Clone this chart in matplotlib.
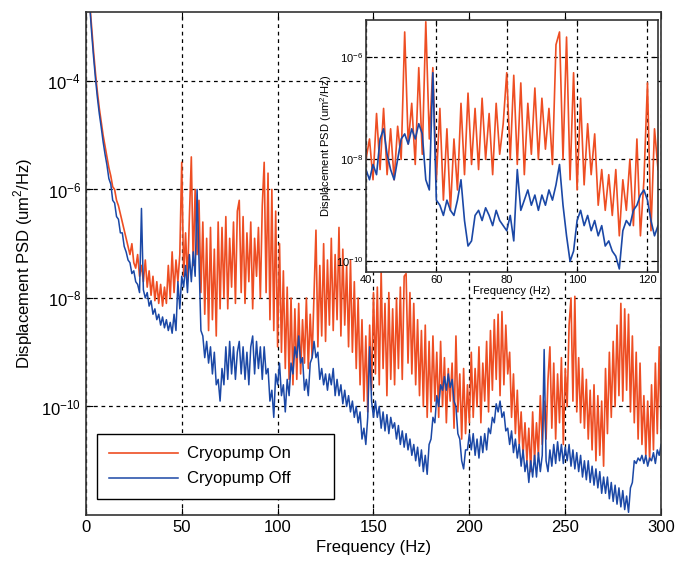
import numpy as np
import matplotlib
matplotlib.use("Agg")
import matplotlib.pyplot as plt
from matplotlib.ticker import FixedLocator, NullLocator, LogFormatterSciNotation

plt.rcParams['font.family'] = ['Liberation Sans', 'DejaVu Sans']
plt.rcParams['mathtext.fontset'] = 'custom'
plt.rcParams['mathtext.rm'] = 'Liberation Sans'

# frequency grid of the main plot (Hz)
freq = np.arange(1, 301)

# log10 of displacement PSD, cryopump on (1 Hz steps)
on_exp = [
    -2.2, -2.55, -3.0, -3.45, -3.85, -4.2, -4.5, -4.75, -5.0, -5.2,
    -5.4, -5.6, -5.75, -5.95, -6.0, -6.2, -6.3, -6.45, -6.6, -6.75,
    -6.9, -7.05, -7.2, -7.0, -7.35, -7.45, -7.2, -7.6, -7.4, -7.7,
    -7.3, -7.8, -7.5, -7.95, -7.6, -8.05, -7.7, -8.1, -7.75, -8.15,
    -7.8, -8.1, -7.4, -8.0, -7.15, -7.9, -7.3, -7.7, -7.2, -5.5,
    -7.6, -6.8, -7.7, -6.5, -5.4, -7.4, -6.0, -7.2, -6.2, -7.9,
    -6.6, -8.3, -6.9, -8.6, -6.7, -8.4, -7.1, -8.7, -6.6, -8.2,
    -6.7, -8.0, -6.5, -8.2, -6.9, -7.8, -6.6, -8.1, -6.4, -6.2,
    -7.9, -6.5, -8.1, -6.8, -7.7, -6.6, -8.2, -6.9, -7.6, -6.7,
    -8.0, -6.3, -5.5, -7.9, -5.7, -8.4, -6.0, -8.6, -6.4, -8.9,
    -7.0, -9.0, -7.5, -9.3, -7.8, -9.5, -8.0, -9.6, -8.2, -9.5,
    -8.1, -9.4, -8.4, -9.2, -8.0, -9.3, -8.3, -9.1, -7.9, -6.75,
    -8.9, -7.4, -8.7, -7.0, -8.8, -7.3, -8.5, -6.9, -8.6, -7.2,
    -8.4, -6.7, -8.7, -7.1, -8.5, -7.4, -8.9, -7.3, -9.0, -7.7,
    -9.3, -8.0, -9.6, -8.4, -9.9, -8.7, -10.1, -8.5, -9.7, -7.9,
    -9.4, -7.8, -9.6, -7.5, -9.3, -8.1, -9.8, -7.9, -9.5, -8.2,
    -9.6, -8.0, -9.3, -7.8, -9.5, -7.6, -7.55, -9.2, -7.9, -9.4,
    -8.1, -9.6, -8.4, -9.8, -8.6, -10.0, -8.5, -10.2, -8.8, -10.1,
    -8.7, -9.9, -9.0, -10.2, -8.8, -10.0, -9.1, -10.3, -9.3, -9.9,
    -9.2, -10.4, -8.7, -10.1, -9.4, -10.6, -9.3, -10.5, -9.6, -10.3,
    -9.0, -10.2, -9.3, -10.0, -8.9, -10.3, -9.2, -9.9, -8.8, -10.1,
    -8.6, -9.7, -8.4, -9.5, -8.3, -9.8, -8.25, -9.6, -8.5, -9.4,
    -9.0, -10.2, -9.4, -10.5, -9.7, -10.7, -10.1, -10.9, -10.3, -11.0,
    -10.4, -11.2, -10.1, -11.0, -10.3, -10.9, -9.8, -10.7, -9.9, -10.6,
    -9.5, -8.9, -10.4, -9.2, -10.6, -9.4, -10.3, -9.1, -10.7, -9.3,
    -10.0, -8.5, -8.0, -9.9, -7.97, -10.1, -9.1, -10.3, -9.3, -10.4,
    -9.5, -10.6, -9.7, -10.8, -9.6, -11.0, -9.8, -10.9, -9.9, -11.1,
    -9.3, -10.5, -9.0, -10.2, -8.8, -10.0, -8.5, -9.8, -8.1, -9.9,
    -8.2, -9.7, -8.3, -10.1, -8.7, -10.3, -9.0, -10.6, -9.2, -10.7,
    -9.8, -10.9, -9.9, -11.0, -9.6, -10.8, -9.2, -10.5, -8.9, -10.4,
]

# log10 of displacement PSD, cryopump off
off_exp = [
    -2.2, -2.6, -3.1, -3.55, -3.95, -4.3, -4.6, -4.85, -5.12, -5.35,
    -5.55, -5.8, -5.9, -6.2, -6.25, -6.5, -6.55, -6.8, -6.8, -7.05,
    -7.15, -7.3, -7.35, -7.55, -7.5, -7.7, -7.75, -7.9, -6.35, -7.85,
    -8.0, -7.9, -8.15, -8.05, -8.3, -8.2, -8.4, -8.3, -8.5, -8.35,
    -8.55, -8.4, -8.6, -8.45, -8.65, -8.3, -8.6, -7.7, -8.2, -7.6,
    -7.8, -7.4, -7.9, -7.2, -7.7, -7.15, -7.6, -6.0, -7.3, -8.6,
    -8.7, -9.1, -8.8, -9.2, -8.9, -9.4, -9.0, -9.6, -9.5, -9.9,
    -9.3, -9.6, -8.9, -9.5, -8.8, -9.4, -8.9, -9.5, -9.0, -8.8,
    -9.4, -8.9, -9.5, -9.0, -9.6, -8.9, -8.7, -9.4, -8.8, -9.3,
    -8.9, -9.5, -8.9, -9.4, -9.3, -9.9, -9.7, -10.2, -9.4, -9.6,
    -9.2, -9.8, -9.6, -10.1, -9.5, -9.8, -9.2, -9.4, -8.9, -9.1,
    -8.7, -9.2, -9.1, -9.7, -9.5, -9.8, -9.2, -9.1, -8.8, -9.1,
    -9.0, -9.5, -9.3, -9.6, -9.4, -9.7, -9.4, -9.6, -9.3, -9.8,
    -9.5, -9.8, -9.6, -9.95, -9.7, -10.0, -9.8, -10.1, -9.9, -10.2,
    -10.0, -10.3, -10.1, -10.6, -10.4, -10.7, -10.2, -8.9, -9.9, -10.2,
    -9.9, -10.2, -10.0, -10.4, -10.1, -10.45, -10.15, -10.5, -10.2, -10.4,
    -10.3, -10.6, -10.35, -10.7, -10.45, -10.75, -10.5, -10.8, -10.6, -10.9,
    -10.7, -11.0, -10.75, -11.1, -10.8, -11.2, -10.9, -11.25, -10.7, -10.6,
    -10.2, -10.3, -9.8, -10.0, -9.6, -9.7, -9.45, -9.7, -9.4, -9.65,
    -9.5, -9.9, -10.0, -10.5, -10.6, -11.0, -11.15, -10.8, -10.8, -10.5,
    -10.8, -10.5, -10.9, -10.6, -10.95, -10.55, -10.85, -10.5, -10.8, -10.4,
    -10.5, -10.2, -10.3, -9.95, -10.1, -9.9, -10.2, -10.1, -10.45, -10.4,
    -10.7, -10.45, -10.85, -10.6, -10.95, -10.7, -11.1, -10.8, -11.2, -11.0,
    -11.4, -11.0, -11.3, -10.9, -11.3, -10.85, -11.2, -10.9, -8.95, -11.0,
    -11.2, -10.8, -11.1, -10.7, -11.05, -10.65, -11.0, -10.7, -11.05, -10.75,
    -11.0, -10.7, -11.1, -10.8, -11.15, -10.85, -11.2, -10.9, -11.3, -11.0,
    -11.35, -11.0, -11.4, -11.1, -11.45, -11.15, -11.5, -11.2, -11.6, -11.3,
    -11.6, -11.3, -11.7, -11.4, -11.75, -11.45, -11.8, -11.5, -11.85, -11.55,
    -11.9, -11.65, -11.95, -11.5, -11.4, -11.0, -11.05, -10.95, -11.0, -10.9,
    -11.05, -10.9, -11.1, -10.95, -11.0, -10.85, -11.05, -10.8, -10.9, -10.7,
]

# inset: 40-123 Hz
inset_freq = np.arange(40, 124)
inset_on_exp = [
    -8.0, -7.6, -8.4, -7.1, -8.2, -7.0, -8.3, -7.4, -8.4, -7.35,
    -8.0, -5.5, -7.7, -6.9, -8.1, -6.2, -7.9, -5.3, -7.6, -6.2,
    -8.4, -7.0, -8.8, -7.4, -9.0, -7.6, -8.6, -6.9, -8.3, -6.7,
    -8.1, -7.0, -8.2, -6.8, -8.0, -7.1, -8.3, -6.9, -7.9, -7.3,
    -6.3, -8.0, -6.35, -8.1, -6.5, -8.3, -6.9, -7.9, -6.6, -8.0,
    -6.8, -7.8, -7.0, -8.1, -5.75, -5.5, -8.0, -5.6, -8.4, -6.3,
    -8.6, -6.8, -8.5, -7.3, -8.3, -7.5, -8.9, -8.2, -9.0, -8.3,
    -9.1, -8.2, -9.5, -8.4, -9.0, -8.0, -9.3, -7.6, -9.5, -8.4,
    -6.5, -9.4, -7.4, -8.2,
]
inset_off_exp = [
    -8.2, -8.4, -8.1, -8.3, -7.6, -7.4, -7.9, -8.2, -8.4, -8.0,
    -7.6, -7.5, -7.7, -7.4, -7.6, -7.3, -7.5, -8.4, -8.6, -6.3,
    -8.8, -8.9, -9.1, -8.8, -9.0, -9.1, -8.8, -8.4, -9.2, -9.7,
    -9.6, -9.1, -9.0, -9.2, -8.95, -9.1, -9.3, -9.0, -9.2, -9.3,
    -9.4, -9.1, -9.6, -8.2, -9.0, -8.8, -8.6, -8.9, -8.7, -9.0,
    -8.7, -8.9, -8.6, -8.8, -8.5, -8.1, -8.9, -9.5, -10.0, -9.8,
    -9.2, -9.0, -9.3, -9.1, -9.4, -9.2, -9.5, -9.3, -9.7, -9.6,
    -9.8, -9.9, -10.15, -9.4, -9.2, -9.3, -9.0, -8.9, -8.7, -8.6,
    -8.8, -9.2, -9.5, -9.3,
]

c_on = '#EE4E23'
c_off = '#1B48A6'
grid_kw = dict(color='k', linestyle=(0, (3, 3)), linewidth=0.9)

fig = plt.figure(figsize=(6.76, 5.62), dpi=100)
ax = fig.add_axes([0.127, 0.0836, 0.851, 0.895])
ax.plot(freq, 10.0 ** np.array(on_exp), color=c_on, lw=1.2, label='Cryopump On')
ax.plot(freq, 10.0 ** np.array(off_exp), color=c_off, lw=1.1, label='Cryopump Off')
ax.set_yscale('log')
ax.set_xlim(0, 300)
ax.set_ylim(1e-12, 10 ** -2.73)
ax.set_xticks([0, 50, 100, 150, 200, 250, 300])
ax.yaxis.set_major_locator(FixedLocator([1e-10, 1e-8, 1e-6, 1e-4]))
ax.yaxis.set_major_formatter(LogFormatterSciNotation())
ax.yaxis.set_minor_locator(NullLocator())
ax.tick_params(direction='in', top=True, right=True, labelsize=12, length=5)
ax.grid(True, **grid_kw)
ax.set_xlabel('Frequency (Hz)', fontsize=12)
ax.set_ylabel('Displacement PSD (um$^2$/Hz)', fontsize=12)
for s in ax.spines.values():
    s.set_linewidth(1.2)
    s.set_color('#333333')
leg = ax.legend(loc='lower left', bbox_to_anchor=(0.019, 0.032, 0.412, 0.123),
                mode='expand', borderaxespad=0, fontsize=12,
                handlelength=4.1, handletextpad=0.55, fancybox=False,
                edgecolor='k', framealpha=1, borderpad=0.75, labelspacing=0.6)
leg.get_frame().set_linewidth(1.0)

# inset
ins = fig.add_axes([0.5414, 0.516, 0.432, 0.448])
ins.set_facecolor('white')
ins.plot(inset_freq, 10.0 ** np.array(inset_on_exp), color=c_on, lw=1.2)
ins.plot(inset_freq, 10.0 ** np.array(inset_off_exp), color=c_off, lw=1.2)
ins.set_yscale('log')
ins.set_xlim(40, 123)
ins.set_ylim(10 ** -10.21, 10 ** -5.27)
ins.set_xticks([40, 60, 80, 100, 120])
ins.yaxis.set_major_locator(FixedLocator([1e-10, 1e-8, 1e-6]))
ins.yaxis.set_major_formatter(LogFormatterSciNotation())
ins.yaxis.set_minor_locator(NullLocator())
ins.tick_params(direction='in', top=True, right=True, labelsize=8, length=4, pad=2)
ins.grid(True, **grid_kw)
ins.set_xlabel('Frequency (Hz)', fontsize=8, labelpad=1)
ins.set_ylabel('Displacement PSD (um$^2$/Hz)', fontsize=8, labelpad=1)
for s in ins.spines.values():
    s.set_linewidth(1.2)
    s.set_color('#333333')

fig.savefig('out.png', dpi=100)
